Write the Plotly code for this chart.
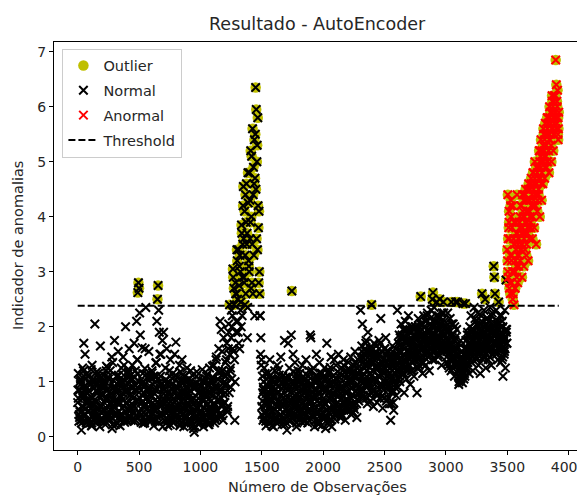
import plotly.graph_objects as go

# ---------------- data ----------------
THRESHOLD = 2.38
ANORMAL_FROM = 3500          # observations from here on are labelled "Anormal"
X_TICKS = [0, 500, 1000, 1500, 2000, 2500, 3000, 3500, 4000]
Y_TICKS = [0, 1, 2, 3, 4, 5, 6, 7]

# pass 1: one value every 5 observations
main_0 = [  # observations 0 .. 1195
    0.62, 1.15, 0.28, 0.85, 0.45, 1.02, 0.12, 0.74, 1.25, 0.55,
    1.70, 0.38, 1.50, 0.92, 0.25, 0.68, 1.10, 0.47, 0.83, 0.30,
    0.95, 0.58, 1.22, 0.20, 0.71, 0.40, 1.05, 0.88, 2.05, 0.35,
    0.63, 1.18, 0.27, 0.80, 0.52, 1.00, 0.18, 1.65, 0.44, 0.90,
    0.33, 0.76, 1.12, 0.50, 0.95, 0.22, 0.67, 1.28, 0.41, 0.85,
    1.05, 0.30, 0.60, 1.20, 0.48, 0.78, 0.15, 1.35, 0.56, 0.92,
    1.75, 0.37, 0.82, 1.10, 0.26, 0.65, 1.55, 0.45, 0.98, 0.20,
    0.72, 1.25, 0.40, 0.88, 1.45, 0.55, 0.30, 1.02, 2.00, 0.62,
    0.85, 0.28, 1.15, 0.50, 1.60, 0.75, 0.35, 1.05, 0.60, 1.30,
    0.45, 0.90, 1.70, 0.32, 1.20, 0.66, 2.10, 1.40, 2.62, 2.80,
    2.70, 2.25, 1.85, 0.95, 0.40, 1.62, 1.15, 0.55, 0.80, 0.25,
    1.60, 2.35, 0.70, 1.08, 0.35, 0.85, 1.55, 0.48, 0.92, 0.30,
    0.75, 1.20, 0.42, 0.95, 0.20, 1.10, 0.58, 0.85, 1.35, 2.10,
    2.50, 2.75, 2.30, 1.90, 1.50, 1.10, 0.65, 0.95, 1.75, 0.40,
    1.90, 0.85, 0.30, 1.25, 0.55, 1.60, 0.72, 0.20, 1.00, 0.48,
    0.82, 1.40, 0.35, 0.95, 0.60, 1.15, 0.25, 0.70, 1.50, 0.45,
    1.72, 0.88, 0.32, 1.08, 0.55, 0.78, 1.30, 0.22, 0.65, 1.00,
    1.40, 0.42, 0.85, 0.18, 1.10, 0.55, 0.90, 0.35, 1.25, 0.62,
    0.30, 0.78, 1.05, 0.45, 1.20, 0.25, 0.68, 0.95, 0.40, 0.15,
    0.08, 0.62, 0.95, 0.35, 1.18, 0.50, 0.80, 0.22, 1.05, 0.58,
    0.28, 0.90, 0.45, 1.22, 0.65, 0.18, 0.85, 1.00, 0.40, 0.72,
    1.10, 0.30, 0.60, 0.95, 0.22, 1.25, 0.52, 0.80, 0.35, 1.05,
    0.45, 0.75, 1.30, 0.25, 0.90, 0.58, 1.45, 0.35, 1.05, 0.68,
    1.60, 0.40, 2.10, 0.85, 1.95, 0.55, 1.20, 0.30, 1.80, 1.00,
]
main_1200 = [  # observations 1200 .. 1495 (the first peak)
    0.62, 1.35, 0.95, 1.70, 0.45, 1.15, 2.05, 0.80, 1.50, 1.25,
    1.80, 1.05, 2.20, 3.05, 1.55, 2.40, 0.30, 2.80, 1.90, 2.60,
    3.20, 2.10, 3.40, 2.75, 1.60, 3.00, 2.45, 3.85, 2.20, 3.50,
    4.55, 2.90, 4.10, 3.30, 2.60, 4.60, 3.70, 2.35, 4.25, 3.10,
    4.80, 3.60, 5.20, 4.00, 2.80, 5.60, 4.40, 3.30, 5.40, 4.70,
    6.35, 5.95, 5.00, 3.40, 4.20, 2.80, 3.00, 2.20, 1.50, 1.30,
]
main_1500 = [  # observations 1500 .. 2295
    0.55, 1.10, 0.30, 0.85, 1.25, 0.45, 0.70, 0.20, 0.95, 0.60,
    1.15, 0.38, 0.80, 1.40, 0.25, 0.65, 1.02, 0.48, 0.90, 0.18,
    0.72, 1.20, 0.35, 0.95, 0.55, 1.30, 0.28, 0.82, 0.62, 1.05,
    0.40, 1.45, 0.75, 0.22, 1.10, 0.58, 0.90, 1.75, 0.32, 0.68,
    1.00, 0.12, 0.85, 1.70, 0.45, 1.25, 0.60, 0.30, 1.85, 2.65,
    0.95, 1.50, 0.40, 0.75, 1.35, 0.55, 1.05, 0.25, 0.88, 1.20,
    0.48, 0.70, 1.15, 0.35, 0.95, 0.60, 1.30, 0.42, 0.80, 1.05,
    0.30, 0.88, 1.40, 0.55, 1.00, 0.25, 0.75, 1.20, 0.50, 1.85,
    1.80, 0.62, 0.95, 0.40, 1.25, 0.70, 0.18, 1.05, 0.85, 1.50,
    0.45, 1.10, 0.30, 0.78, 1.35, 0.60, 0.92, 0.20, 1.15, 0.55,
    0.85, 0.35, 1.25, 0.62, 0.15, 1.05, 1.70, 0.48, 0.95, 0.28,
    1.20, 0.70, 0.40, 1.45, 0.18, 0.88, 1.10, 0.55, 1.40, 0.32,
    0.95, 1.30, 0.60, 1.05, 0.42, 1.50, 0.75, 1.15, 0.50, 0.85,
    1.25, 0.38, 0.90, 1.40, 0.65, 1.10, 0.30, 0.80, 1.20, 0.55,
    0.95, 1.35, 0.48, 1.05, 0.72, 1.45, 0.40, 0.88, 1.15, 0.60,
    1.30, 0.50, 1.55, 0.82, 1.10, 0.35, 0.95, 1.40, 0.65, 1.20,
]
main_2300 = [  # observations 2300 .. 2595
    1.45, 2.30, 0.85, 1.65, 2.05, 1.10, 0.70, 1.50, 0.95, 1.30,
    1.75, 1.20, 0.60, 1.90, 1.00, 1.40, 0.75, 1.60, 1.15, 2.40,
    0.90, 1.35, 0.55, 1.70, 1.05, 1.50, 0.80, 1.25, 0.62, 1.45,
    1.10, 1.75, 0.70, 1.30, 2.15, 0.95, 1.55, 0.52, 1.20, 0.85,
    1.60, 1.00, 1.80, 0.65, 1.35, 1.10, 0.90, 1.55, 0.60, 1.25,
    0.30, 1.45, 0.80, 1.65, 1.05, 0.48, 1.30, 0.95, 1.50, 0.75,
]
main_2600 = [  # observations 2600 .. 2995
    1.20, 2.30, 0.90, 1.55, 1.85, 1.00, 1.40, 2.05, 1.15, 1.70,
    1.95, 1.25, 0.80, 1.60, 2.10, 1.35, 1.05, 1.75, 1.45, 2.20,
    1.30, 1.90, 0.95, 1.65, 2.00, 1.20, 1.50, 1.85, 1.10, 1.70,
    2.00, 1.40, 1.80, 0.80, 1.55, 2.15, 1.25, 1.90, 1.60, 2.55,
    1.35, 1.95, 1.15, 1.75, 2.20, 1.50, 1.85, 1.30, 2.10, 1.65,
    2.25, 1.45, 1.90, 1.20, 2.05, 1.70, 2.30, 1.55, 2.50, 2.62,
    1.80, 2.35, 1.40, 2.10, 1.65, 2.45, 1.95, 1.50, 2.20, 1.75,
    2.50, 1.60, 2.05, 1.30, 2.25, 1.85, 2.45, 1.55, 2.10, 1.70,
]
main_3000 = [  # observations 3000 .. 3195
    2.00, 1.45, 1.75, 2.25, 1.30, 1.95, 1.60, 2.15, 1.40, 2.45,
    1.85, 1.25, 2.05, 1.55, 1.10, 1.80, 2.45, 1.35, 1.65, 2.45,
    1.20, 0.95, 1.50, 1.05, 1.75, 1.15, 1.40, 0.98, 2.42, 1.30,
    1.60, 1.10, 2.42, 1.45, 1.25, 1.85, 1.35, 1.70, 1.15, 2.00,
]
main_3200 = [  # observations 3200 .. 3495
    1.55, 2.20, 1.35, 1.90, 1.20, 1.75, 2.35, 1.50, 1.65, 2.10,
    1.40, 1.85, 2.25, 1.30, 1.95, 1.60, 1.15, 2.05, 1.70, 2.60,
    1.80, 1.45, 2.30, 1.55, 2.50, 1.25, 1.95, 1.65, 2.15, 1.40,
    2.00, 1.60, 2.35, 1.75, 1.30, 2.20, 1.50, 1.90, 3.10, 2.90,
    2.60, 1.85, 2.30, 1.55, 2.05, 1.40, 2.45, 1.70, 2.20, 1.35,
    1.90, 1.60, 2.10, 1.10, 1.80, 1.50, 2.30, 1.25, 2.85, 1.95,
]
main_3500 = [  # observations 3500 .. 3920
    3.40, 4.40, 2.90, 4.10, 3.60, 2.60, 4.30, 3.20, 3.80, 2.50,
    3.00, 2.40, 3.50, 2.70, 3.90, 3.10, 4.40, 2.80, 3.60, 3.30,
    3.90, 3.20, 4.20, 3.50, 2.90, 4.40, 3.70, 3.10, 4.00, 3.40,
    4.50, 3.30, 4.10, 3.80, 3.20, 4.60, 3.60, 4.30, 3.90, 4.70,
    4.00, 3.60, 4.80, 4.30, 3.80, 5.00, 4.20, 3.50, 4.60, 4.10,
    4.90, 4.40, 5.20, 4.00, 4.70, 5.40, 4.30, 5.00, 4.60, 5.60,
    5.10, 4.70, 5.70, 5.30, 4.90, 5.80, 5.00, 5.50, 4.80, 6.00,
    5.40, 5.90, 5.00, 6.20, 5.60, 5.20, 6.10, 5.50, 5.80, 6.85,
    6.40, 5.70, 6.30, 5.40, 5.90,
]

# pass 2: one value every 10 observations, offset 2.5
extra_0 = [  # observations 2.5 .. 1192.5
    0.85, 0.40, 0.95, 0.25, 0.70, 1.10, 0.50, 0.80, 0.30, 1.00,
    0.60, 0.20, 0.90, 0.45, 1.15, 0.65, 0.35, 0.75, 1.05, 0.55,
    0.28, 0.88, 0.48, 1.20, 0.70, 0.38, 0.92, 0.58, 0.22, 1.02,
    0.66, 0.42, 0.85, 1.12, 0.32, 0.74, 0.52, 0.98, 0.26, 0.80,
    0.62, 1.18, 0.36, 0.90, 0.50, 0.70, 1.08, 0.30, 0.84, 0.56,
    1.00, 0.40, 0.76, 0.24, 0.94, 0.60, 1.14, 0.46, 0.82, 0.34,
    0.72, 1.06, 0.52, 0.28, 0.88, 0.64, 0.40, 1.00, 0.58, 0.18,
    0.78, 0.44, 0.96, 0.30, 0.68, 1.10, 0.50, 0.86, 0.26, 0.62,
    0.92, 0.38, 0.74, 0.20, 1.04, 0.54, 0.80, 0.32, 0.66, 0.98,
    0.45, 0.84, 0.28, 1.12, 0.60, 0.36, 0.90, 0.52, 0.70, 0.24,
    0.82, 0.46, 1.02, 0.34, 0.76, 0.58, 0.22, 0.94, 0.64, 0.40,
    1.08, 0.56, 0.30, 0.86, 0.48, 1.16, 0.72, 0.38, 0.96, 0.62,
]
extra_1200 = [  # observations 1202.5 .. 1492.5
    0.80, 1.40, 0.55, 1.90, 1.20, 2.30, 1.60, 2.70, 1.00, 2.10,
    2.50, 1.70, 3.30, 2.00, 2.90, 3.60, 2.40, 3.90, 1.80, 3.20,
    4.30, 2.70, 3.50, 4.90, 2.20, 4.50, 5.30, 3.80, 2.60, 1.80,
]
extra_1500 = [  # observations 1502.5 .. 2292.5
    0.40, 0.90, 0.62, 0.28, 1.05, 0.72, 0.48, 0.85, 0.20, 0.66,
    1.00, 0.36, 0.78, 0.54, 1.12, 0.30, 0.88, 0.60, 0.42, 0.95,
    0.25, 0.70, 1.08, 0.50, 0.82, 0.34, 0.98, 0.64, 0.18, 0.76,
    0.56, 1.02, 0.38, 0.86, 0.62, 0.28, 0.92, 0.46, 1.10, 0.68,
    0.32, 0.80, 0.58, 1.00, 0.42, 0.74, 0.22, 0.90, 0.52, 1.06,
    0.64, 0.36, 0.84, 0.48, 1.14, 0.70, 0.30, 0.96, 0.56, 0.78,
    0.44, 1.04, 0.62, 0.88, 0.34, 1.12, 0.72, 0.50, 0.94, 0.66,
    1.02, 0.58, 1.20, 0.76, 0.45, 1.10, 0.82, 0.60, 1.25, 0.90,
]
extra_2300 = [  # observations 2302.5 .. 2592.5
    1.20, 0.80, 1.45, 1.00, 1.60, 0.70, 1.30, 0.95, 1.55, 1.10,
    0.85, 1.40, 1.05, 1.65, 0.75, 1.25, 1.50, 0.90, 1.35, 1.15,
    1.60, 0.95, 1.30, 0.70, 1.45, 1.05, 1.20, 0.62, 1.38, 0.88,
]
extra_2600 = [  # observations 2602.5 .. 2992.5
    1.30, 1.70, 1.10, 1.55, 1.85, 1.25, 1.60, 1.40, 1.95, 1.20,
    1.75, 1.45, 1.90, 1.35, 1.65, 2.00, 1.50, 1.80, 1.30, 2.05,
    1.60, 1.85, 1.45, 2.10, 1.70, 1.95, 1.55, 2.15, 1.75, 1.40,
    2.00, 1.65, 2.20, 1.80, 1.50, 2.05, 1.70, 1.90, 2.25, 1.60,
]
extra_3000 = [  # observations 3002.5 .. 3192.5
    1.70, 1.35, 1.90, 1.55, 1.20, 1.80, 1.45, 2.00, 1.60, 1.30,
    1.10, 1.40, 1.05, 1.25, 1.50, 1.15, 1.75, 1.35, 1.55, 1.85,
]
extra_3200 = [  # observations 3202.5 .. 3492.5
    1.70, 1.45, 1.95, 1.60, 1.80, 2.05, 1.50, 1.85, 1.65, 2.10,
    1.40, 1.90, 1.75, 2.15, 1.55, 1.95, 1.70, 2.00, 1.60, 1.85,
    2.05, 1.50, 1.80, 1.95, 1.65, 2.20, 1.45, 1.75, 1.60, 1.90,
]
extra_3500 = [  # observations 3502.5 .. 3912.5
    3.20, 3.80, 2.80, 4.00, 3.00, 3.60, 2.70, 3.40, 3.70, 3.10,
    3.80, 4.20, 3.50, 4.00, 3.70, 4.30, 3.90, 4.50, 4.10, 3.80,
    4.40, 4.80, 4.20, 4.60, 4.40, 4.90, 4.70, 5.10, 4.80, 5.30,
    5.20, 5.50, 5.00, 5.70, 5.40, 5.90, 5.60, 6.00, 5.70, 6.20,
    5.80, 5.50,
]

# pass 3: one value every 10 observations, offset 7.5
third_0 = [  # observations 7.5 .. 1197.5
    0.50, 1.00, 0.30, 0.78, 1.20, 0.42, 0.88, 0.60, 1.10, 0.25,
    0.72, 1.30, 0.48, 0.95, 0.35, 0.82, 1.15, 0.55, 0.28, 0.98,
    1.05, 0.62, 0.40, 0.85, 1.25, 0.32, 0.70, 1.45, 0.50, 0.90,
    0.22, 0.80, 1.10, 0.58, 0.38, 1.00, 0.68, 1.30, 0.45, 0.92,
    0.36, 1.22, 0.76, 0.52, 1.05, 0.28, 0.86, 0.64, 1.40, 0.44,
    0.70, 0.26, 0.98, 0.56, 1.24, 0.40, 0.84, 0.62, 1.08, 0.30,
    1.16, 0.48, 0.78, 1.34, 0.36, 0.92, 0.58, 1.50, 0.42, 0.86,
    0.30, 1.04, 0.64, 0.46, 1.20, 0.74, 0.34, 0.96, 0.52, 1.12,
    0.40, 0.88, 0.60, 1.18, 0.26, 0.76, 0.50, 1.02, 0.38, 0.70,
    0.96, 0.32, 0.66, 0.20, 0.90, 0.48, 1.10, 0.30, 0.80, 0.58,
    0.36, 1.00, 0.54, 0.78, 0.28, 1.14, 0.68, 0.44, 0.86, 1.28,
    0.50, 0.92, 1.40, 0.66, 1.20, 0.42, 0.84, 1.55, 0.76, 1.10,
]
third_1200 = [  # observations 1207.5 .. 1497.5
    1.10, 0.50, 1.60, 2.40, 0.90, 2.00, 2.90, 1.40, 2.60, 3.40,
    1.90, 3.10, 2.30, 3.70, 4.20, 2.80, 4.40, 3.50, 4.80, 3.00,
    3.90, 5.10, 2.60, 4.60, 5.50, 3.60, 5.80, 4.10, 2.20, 1.40,
]
third_1500 = [  # observations 1507.5 .. 2297.5
    0.80, 0.35, 1.15, 0.58, 0.92, 0.26, 0.70, 1.06, 0.46, 0.84,
    0.30, 0.98, 0.64, 1.22, 0.40, 0.76, 0.54, 1.02, 0.22, 0.88,
    0.60, 1.10, 0.44, 0.82, 0.32, 1.18, 0.68, 0.50, 0.94, 0.36,
    1.04, 0.72, 0.26, 0.90, 0.56, 1.14, 0.40, 0.78, 0.62, 0.96,
    1.20, 0.52, 0.86, 0.30, 1.00, 0.66, 0.44, 1.16, 0.74, 0.34,
    0.92, 0.58, 1.08, 0.24, 0.80, 1.26, 0.48, 0.70, 1.02, 0.40,
    0.86, 1.18, 0.56, 0.96, 0.42, 0.76, 1.30, 0.62, 1.06, 0.48,
    0.84, 1.22, 0.70, 1.00, 0.55, 1.35, 0.92, 0.68, 1.15, 0.80,
]
third_2300 = [  # observations 2307.5 .. 2597.5
    1.00, 1.55, 0.75, 1.30, 1.70, 0.90, 1.45, 1.15, 0.65, 1.35,
    1.60, 1.05, 1.25, 0.80, 1.50, 1.10, 1.70, 0.95, 1.40, 0.70,
    1.25, 1.55, 0.85, 1.15, 1.45, 0.60, 1.30, 1.00, 1.60, 1.20,
]
third_2600 = [  # observations 2607.5 .. 2997.5
    1.50, 1.05, 1.80, 1.30, 1.65, 1.15, 1.95, 1.45, 1.25, 1.75,
    1.55, 1.20, 2.00, 1.40, 1.85, 1.60, 1.25, 1.95, 1.70, 1.45,
    2.05, 1.35, 1.80, 1.55, 2.20, 1.65, 1.90, 1.50, 2.00, 1.85,
    1.55, 2.10, 1.75, 1.45, 2.15, 1.90, 1.60, 2.00, 1.75, 1.95,
]
third_3000 = [  # observations 3007.5 .. 3197.5
    1.55, 1.90, 1.25, 1.65, 2.05, 1.40, 1.75, 1.30, 1.95, 1.50,
    1.00, 1.25, 1.15, 1.35, 1.05, 1.60, 1.30, 1.90, 1.45, 1.65,
]
third_3200 = [  # observations 3207.5 .. 3497.5
    1.90, 1.60, 1.75, 2.15, 1.45, 1.70, 1.95, 1.55, 2.20, 1.80,
    1.65, 2.00, 1.50, 1.85, 2.10, 1.45, 1.80, 2.25, 1.70, 1.55,
    1.90, 2.10, 1.60, 1.75, 2.00, 1.40, 1.85, 1.55, 1.95, 1.70,
]
third_3500 = [  # observations 3507.5 .. 3917.5
    3.60, 2.70, 4.20, 3.30, 2.60, 3.90, 3.20, 2.90, 3.50, 3.90,
    3.40, 3.70, 4.10, 3.60, 4.40, 3.50, 4.10, 3.80, 4.50, 4.20,
    4.00, 4.60, 4.40, 4.90, 4.30, 4.70, 5.20, 4.60, 5.00, 5.50,
    4.90, 5.30, 5.60, 5.20, 5.80, 5.30, 6.10, 5.50, 5.90, 5.60,
    6.00, 5.60,
]

# pass 4: one value every 10 observations, offset 5 (dense cores)
fourth_0 = [  # observations 5 .. 1195
    0.70, 0.35, 1.05, 0.55, 0.90, 0.30, 0.75, 1.15, 0.45, 0.65,
    0.95, 0.25, 0.60, 1.00, 0.40, 0.85, 0.50, 1.10, 0.32, 0.78,
    0.58, 0.92, 0.28, 0.72, 1.08, 0.46, 0.82, 0.36, 0.68, 1.02,
    0.54, 0.88, 0.24, 0.64, 0.98, 0.42, 0.80, 1.12, 0.34, 0.60,
    0.86, 0.48, 1.04, 0.30, 0.74, 0.56, 0.94, 0.38, 1.14, 0.66,
    0.44, 0.84, 0.62, 1.00, 0.28, 0.70, 0.52, 0.90, 0.36, 1.06,
    0.60, 0.32, 0.86, 0.48, 1.10, 0.72, 0.26, 0.94, 0.56, 0.40,
    0.68, 1.02, 0.34, 0.80, 0.54, 0.22, 0.88, 0.46, 1.08, 0.36,
    0.74, 0.50, 0.96, 0.30, 0.64, 1.12, 0.42, 0.78, 0.24, 0.90,
    0.56, 0.28, 0.82, 0.46, 0.70, 0.18, 0.98, 0.38, 0.62, 0.44,
    0.92, 0.30, 0.68, 1.06, 0.40, 0.84, 0.52, 0.26, 0.76, 1.00,
    0.60, 0.34, 0.88, 0.50, 1.04, 0.66, 0.80, 1.20, 0.58, 0.94,
]
fourth_1500 = [  # observations 1505 .. 2295
    0.65, 1.00, 0.42, 0.78, 0.30, 0.90, 0.56, 1.12, 0.36, 0.74,
    0.50, 0.86, 0.24, 1.04, 0.62, 0.40, 0.96, 0.70, 0.32, 1.08,
    0.52, 0.84, 0.28, 0.68, 1.00, 0.44, 0.92, 0.60, 1.14, 0.38,
    0.80, 0.50, 1.06, 0.34, 0.72, 0.88, 0.46, 1.02, 0.30, 0.66,
    0.90, 0.40, 0.76, 1.10, 0.54, 0.26, 0.82, 0.62, 0.98, 0.44,
    0.70, 1.04, 0.36, 0.86, 0.52, 0.94, 0.32, 0.78, 1.12, 0.58,
    0.96, 0.46, 0.74, 1.08, 0.38, 0.88, 0.60, 1.16, 0.52, 0.82,
    0.66, 1.00, 0.48, 0.90, 1.20, 0.58, 1.06, 0.78, 0.95, 1.28,
]
fourth_2300 = [  # observations 2305 .. 3495
    1.10, 1.40, 0.85, 1.25, 1.55, 0.95, 1.35, 1.05, 1.50, 0.80,
    1.20, 1.45, 1.00, 1.30, 0.90, 1.60, 1.15, 1.35, 0.75, 1.25,
    1.05, 1.50, 1.20, 0.95, 1.40, 1.10, 0.85, 1.35, 1.15, 1.45,
    1.45, 1.20, 1.65, 1.35, 1.80, 1.50, 1.25, 1.70, 1.55, 1.85,
    1.40, 1.75, 1.60, 1.95, 1.50, 1.80, 1.65, 1.40, 1.90, 1.70,
    1.85, 1.60, 2.00, 1.75, 1.55, 1.95, 1.80, 2.05, 1.65, 1.90,
    1.85, 1.70, 2.05, 1.60, 1.95, 1.80, 2.10, 1.85, 1.65, 2.00,
    1.80, 1.60, 1.95, 1.70, 1.45, 1.85, 1.55, 1.75, 1.40, 1.60,
    1.20, 1.10, 1.30, 1.20, 1.40, 1.25, 1.50, 1.60, 1.70, 1.55,
    1.80, 1.55, 1.95, 1.70, 1.85, 1.60, 2.00, 1.75, 1.90, 1.65,
    1.85, 1.70, 2.05, 1.80, 1.60, 1.95, 1.75, 1.90, 1.85, 2.00,
    1.70, 1.80, 1.95, 1.65, 1.85, 1.75, 2.00, 1.60, 1.80, 1.70,
]
fourth_3500 = [  # observations 3505 .. 3915
    3.00, 3.90, 3.30, 2.80, 4.20, 3.50, 3.00, 3.70, 3.30, 3.60,
    4.00, 3.40, 3.80, 4.30, 3.90, 4.10, 3.70, 4.30, 4.00, 4.60,
    4.20, 4.50, 4.70, 4.40, 4.80, 4.50, 5.00, 4.90, 5.20, 5.00,
    5.40, 5.10, 5.50, 5.80, 5.50, 5.70, 5.90, 5.80, 6.20, 5.90,
    6.10, 5.80,
]

segments = [  # (first observation, spacing, values)
    (0, 5, main_0), (1200, 5, main_1200), (1500, 5, main_1500),
    (2300, 5, main_2300), (2600, 5, main_2600), (3000, 5, main_3000),
    (3200, 5, main_3200), (3500, 5, main_3500),
    (2.5, 10, extra_0), (1202.5, 10, extra_1200), (1502.5, 10, extra_1500),
    (2302.5, 10, extra_2300), (2602.5, 10, extra_2600), (3002.5, 10, extra_3000),
    (3202.5, 10, extra_3200), (3502.5, 10, extra_3500),
    (7.5, 10, third_0), (1207.5, 10, third_1200), (1507.5, 10, third_1500),
    (2307.5, 10, third_2300), (2607.5, 10, third_2600), (3007.5, 10, third_3000),
    (3207.5, 10, third_3200), (3507.5, 10, third_3500),
    (5, 10, fourth_0), (1505, 10, fourth_1500), (2305, 10, fourth_2300),
    (3505, 10, fourth_3500),
]

obs, score = [], []
for start, step, vals in segments:
    for k, v in enumerate(vals):
        obs.append(start + step * k)
        score.append(v)

pairs = sorted(zip(obs, score))
out_x = [x for x, y in pairs if y > THRESHOLD]
out_y = [y for x, y in pairs if y > THRESHOLD]
nor_x = [x for x, y in pairs if x < ANORMAL_FROM]
nor_y = [y for x, y in pairs if x < ANORMAL_FROM]
ano_x = [x for x, y in pairs if x >= ANORMAL_FROM]
ano_y = [y for x, y in pairs if x >= ANORMAL_FROM]

# ---------------- figure ----------------
# the page body has an 8px margin, so the figure is 8px smaller and the
# plot margins are reduced to keep the plot box where the reference has it
FONT = "DejaVu Sans"
TXT = "#262626"
fig = go.Figure()
fig.add_trace(go.Scatter(
    x=out_x, y=out_y, mode="markers", name="Outlier", legendgroup="a",
    marker=dict(symbol="circle", size=10.5, color="#bfbf00", line=dict(width=0)),
))
fig.add_trace(go.Scatter(
    x=nor_x, y=nor_y, mode="markers", name="Normal", legendgroup="b",
    marker=dict(symbol="x-thin", size=8.5, color="black",
                line=dict(width=2, color="black")),
))
fig.add_trace(go.Scatter(
    x=ano_x, y=ano_y, mode="markers", name="Anormal", legendgroup="c",
    marker=dict(symbol="x-thin", size=8.5, color="#ff0000",
                line=dict(width=2, color="#ff0000")),
))
fig.add_trace(go.Scatter(
    x=[min(obs), max(obs)], y=[THRESHOLD, THRESHOLD], mode="lines",
    name="Threshold", legendgroup="d",
    line=dict(color="black", width=2, dash="7px,3px"),
))

axis_common = dict(
    showline=True, linecolor="black", linewidth=1, mirror=True,
    ticks="outside", ticklen=4, tickcolor="black", showgrid=False,
    zeroline=False, automargin=False,
    tickfont=dict(family=FONT, size=14, color=TXT),
)
fig.update_layout(
    width=577, height=487,
    margin=dict(l=46, r=5, t=34, b=45),
    paper_bgcolor="white", plot_bgcolor="white",
    font=dict(family=FONT, size=14, color=TXT),
    xaxis=dict(range=[-193, 4093], tickvals=X_TICKS, ticklabeloverflow="allow",
               **axis_common),
    yaxis=dict(range=[-0.242, 7.176], tickvals=Y_TICKS, **axis_common),
    legend=dict(x=0.016, y=0.984, xanchor="left", yanchor="top",
                bgcolor="white", bordercolor="#cccccc", borderwidth=1,
                font=dict(family=FONT, size=14.5, color=TXT),
                tracegroupgap=3),
    showlegend=True,
    annotations=[
        dict(text="Resultado - AutoEncoder", xref="paper", yref="paper",
             x=0.5, y=1, yshift=18, xanchor="center", yanchor="middle",
             showarrow=False, font=dict(family=FONT, size=17.5, color=TXT)),
        dict(text="Número de Observações", xref="paper", yref="paper",
             x=0.5, y=0, yshift=-37, xanchor="center", yanchor="middle",
             showarrow=False, font=dict(family=FONT, size=14.5, color=TXT)),
        dict(text="Indicador de anomalias", xref="paper", yref="paper",
             x=0, y=0.5, xshift=-36, xanchor="center", yanchor="middle",
             textangle=-90, showarrow=False,
             font=dict(family=FONT, size=14.5, color=TXT)),
    ],
)

fig.write_html("out.html")
